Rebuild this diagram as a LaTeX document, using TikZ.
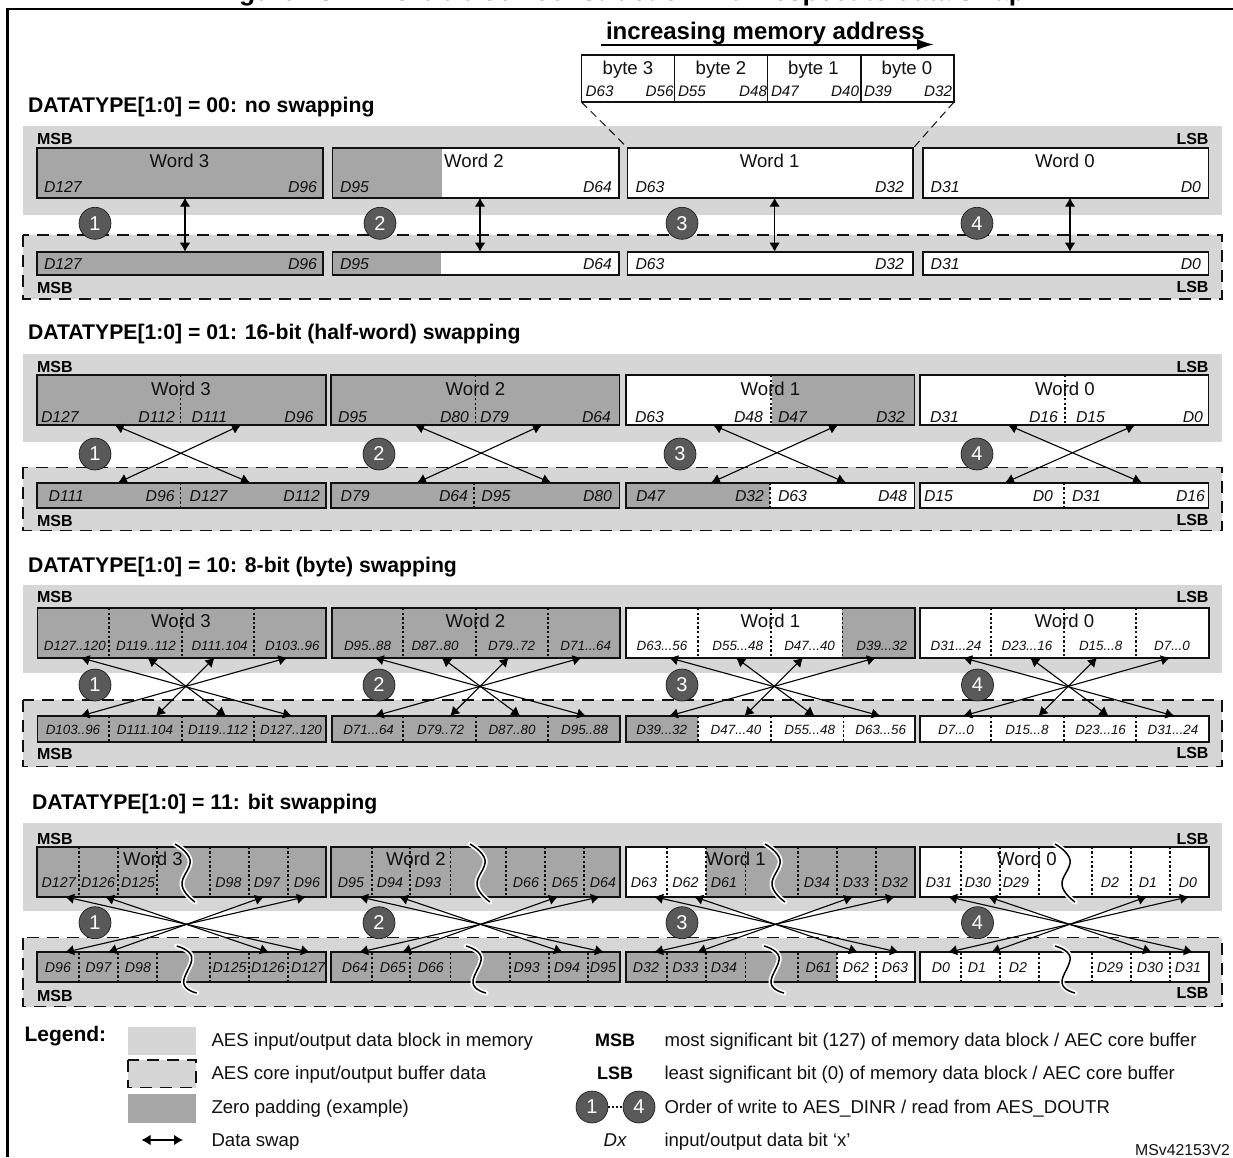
\documentclass[tikz,border=0pt]{standalone}
\usepackage{fontspec}
\setmainfont{Liberation Sans}
\usetikzlibrary{arrows.meta}
\definecolor{panel}{HTML}{D6D6D6}
\definecolor{zero}{HTML}{A6A6A6}
\definecolor{badge}{HTML}{595959}
\definecolor{ink}{HTML}{111111}
\newcounter{lab}
\tikzset{
  rg/.style={inner sep=0pt,outer sep=0pt,font=\fontsize{#1}{#1}\selectfont,text height={.716*#1pt},text depth=0pt,text=ink},
  it/.style={inner sep=0pt,outer sep=0pt,font=\fontsize{#1}{#1}\selectfont\itshape,text height={.716*#1pt},text depth=0pt,text=ink},
  bd/.style={inner sep=0pt,outer sep=0pt,font=\fontsize{#1}{#1}\selectfont\bfseries,text height={.716*#1pt},text depth=0pt,text=black},
  wordbox/.style={draw=ink,line width=1.7pt,inner sep=0pt,outer sep=0pt,anchor=north west},
  divline/.style={draw=ink,line width=1.6pt,dash pattern=on 2.4pt off 2.2pt},
  swaparrow/.style={draw=black,line width=1.1pt,{Latex[length=9pt,width=10.5pt]}-{Latex[length=9pt,width=10.5pt]}},
  buffer/.style={fill=panel,draw=ink,line width=1.5pt,dash pattern=on 12pt off 8pt},
  order/.style={circle,fill=badge,draw=ink,line width=.6pt,minimum size=32pt,inner sep=0pt,outer sep=0pt,
     font=\fontsize{20}{20}\selectfont,text=white},
}
\newcommand{\lbl}[5]{\stepcounter{lab}\node[#1,anchor=#2] (L\arabic{lab}) at (#3,#4) {#5};}
% name, xl, xr, ytop, ybot, gray from, gray to
\newcommand{\wbox}[7]{%
  \fill[white] (#2,#4) rectangle (#3,#5);
  \fill[zero] (#6,#4) rectangle (#7,#5);
  \node[wordbox,minimum width={(#3-#2)*1pt},minimum height={(#5-#4)*1pt}] (#1) at (#2,#4) {};}
\newcommand{\divs}[3]{\foreach \dx in {#3} {\draw[divline] (\dx,#1) -- (\dx,#2);}}
\newcommand{\swap}[5]{\coordinate (#1a) at (#2,#3); \coordinate (#1b) at (#4,#5); \draw[swaparrow] (#1a) -- (#1b);}
\newcommand{\orderbadge}[4]{\node[order] (#1) at (#2,#3) {#4};}
\newcommand{\squig}[5]{%
  \draw[white,line width=5pt,line cap=round] plot[smooth,tension=.75] coordinates {(#1,#2) ({#1+15},#3) ({#1+7},#4) ({#1+20},#5)};
  \draw[black,line width=1.5pt] plot[smooth,tension=.75] coordinates {(#1,#2) ({#1+15},#3) ({#1+7},#4) ({#1+20},#5)};}
\newcommand{\panelpair}[4]{% gray top, gray bottom, dashed top, dashed bottom
  \fill[panel] (23,#1) rectangle (1222,#2);
  \path[buffer] (23,#3) rectangle (1222,#4);}
\begin{document}
\begin{tikzpicture}[x=1pt,y=-1pt]
\useasboundingbox (0,0) rectangle (1233,1157);
\fill[white] (0,0) rectangle (1233,1157);

% frame and title
\draw[black,line width=2.6pt] (7.5,1157) -- (7.5,9) -- (1233,9);
\node[bd=26.5,anchor=base east,text height=19pt] (title) at (1025,0.3) {Figure 432. 128-bit block construction with respect to data swap};

%%%%%%%%%% panel 1
\panelpair{126}{215}{235}{299}
\wbox{aw3}{37}{323}{148.3}{197.7}{37}{323}
\wbox{aw2}{332.5}{619}{148.3}{197.7}{332.5}{442}
\wbox{aw1}{627.5}{913}{148.3}{197.7}{627.5}{627.5}
\wbox{aw0}{923}{1208.5}{148.3}{197.7}{923}{923}
\wbox{ab3}{37}{323}{251.7}{275.3}{37}{323}
\wbox{ab2}{332.5}{619}{251.7}{275.3}{332.5}{441}
\wbox{ab1}{627.5}{913}{251.7}{275.3}{627.5}{627.5}
\wbox{ab0}{923}{1208.5}{251.7}{275.3}{923}{923}
\lbl{bd=21.2}{west}{28}{104.5}{DATATYPE[1:0] = 00: no swapping}
\lbl{bd=16}{west}{37}{139}{MSB}
\lbl{bd=16}{east}{1208.5}{139}{LSB}
\lbl{bd=16}{west}{37}{288}{MSB}
\lbl{bd=16}{east}{1208.5}{287}{LSB}
\lbl{rg=18.6}{center}{179.5}{160.5}{Word 3}
\lbl{rg=18.6}{center}{474}{160.5}{Word 2}
\lbl{rg=18.6}{center}{769.6}{160.5}{Word 1}
\lbl{rg=18.6}{center}{1065}{160.5}{Word 0}
\foreach \yy in {186.7,263.5}{
  \lbl{it=15.8}{west}{44}{\yy}{D127}
  \lbl{it=15.8}{east}{317}{\yy}{D96}
  \lbl{it=15.8}{west}{340}{\yy}{D95}
  \lbl{it=15.8}{east}{612}{\yy}{D64}
  \lbl{it=15.8}{west}{635.5}{\yy}{D63}
  \lbl{it=15.8}{east}{904}{\yy}{D32}
  \lbl{it=15.8}{west}{930.7}{\yy}{D31}
  \lbl{it=15.8}{east}{1201}{\yy}{D0}
}
\swap{as3}{185}{197.7}{185}{251.7}
\swap{as2}{480}{197.7}{480}{251.7}
\swap{as1}{774.6}{197.7}{774.6}{251.7}
\swap{as0}{1070}{197.7}{1070}{251.7}
\orderbadge{ao1}{95}{223.3}{1}
\orderbadge{ao2}{380}{223.3}{2}
\orderbadge{ao3}{682}{223.3}{3}
\orderbadge{ao4}{977}{223.3}{4}
% memory-address detail
\lbl{bd=24}{west}{606}{30.5}{increasing memory address}
\coordinate (addrs) at (601,44.5);
\coordinate (addre) at (934,44.5);
\draw[black,line width=2pt,-{Latex[length=17pt,width=11pt]}] (addrs) -- (addre);
\node[draw=ink,line width=1.4pt,fill=white,inner sep=0pt,outer sep=0pt,anchor=north west,minimum width=372.6pt,minimum height=47pt] (bytes) at (581.4,55) {};
\draw[ink,line width=1.4pt] (674.4,55) -- (674.4,102) (767.5,55) -- (767.5,102) (861,55) -- (861,102);
\lbl{rg=18.6}{center}{628}{68}{byte 3}
\lbl{rg=18.6}{center}{721}{68}{byte 2}
\lbl{rg=18.6}{center}{813.5}{68}{byte 1}
\lbl{rg=18.6}{center}{907}{68}{byte 0}
\lbl{it=15.2}{west}{585.6}{90.7}{D63}
\lbl{it=15.2}{east}{673.6}{90.7}{D56}
\lbl{it=15.2}{west}{678}{90.7}{D55}
\lbl{it=15.2}{east}{767}{90.7}{D48}
\lbl{it=15.2}{west}{771}{90.7}{D47}
\lbl{it=15.2}{east}{859}{90.7}{D40}
\lbl{it=15.2}{west}{864}{90.7}{D39}
\lbl{it=15.2}{east}{952}{90.7}{D32}
\coordinate (zl) at (627,147.3);
\coordinate (zr) at (913.3,148);
\draw[ink,line width=1pt,dash pattern=on 8pt off 5pt] (bytes.south west) -- (zl);
\draw[ink,line width=1pt,dash pattern=on 8pt off 5pt] (bytes.south east) -- (zr);

%%%%%%%%%% panel 2
\panelpair{354}{441.7}{467.3}{530.7}
\wbox{bw3}{37}{326}{375}{425}{37}{326}
\wbox{bw2}{331}{619.5}{375}{425}{331}{619.5}
\wbox{bw1}{626}{914.5}{375}{425}{772}{914.5}
\wbox{bw0}{920}{1208.5}{375}{425}{920}{920}
\wbox{bb3}{37}{326}{482.7}{507.7}{37}{326}
\wbox{bb2}{331}{619.5}{482.7}{507.7}{331}{619.5}
\wbox{bb1}{626}{914.5}{482.7}{507.7}{626}{770}
\wbox{bb0}{920}{1208.5}{482.7}{507.7}{920}{920}
\divs{375}{425}{180.6,475.5,771,1065}
\divs{482.7}{507.7}{180.6,474,770,1064}
\lbl{bd=21.2}{west}{28}{332}{DATATYPE[1:0] = 01: 16-bit (half-word) swapping}
\lbl{bd=16}{west}{37}{366.7}{MSB}
\lbl{bd=16}{east}{1208.5}{366.7}{LSB}
\lbl{bd=16}{west}{37}{521}{MSB}
\lbl{bd=16}{east}{1208.5}{519.5}{LSB}
\lbl{rg=18.6}{center}{181}{389.3}{Word 3}
\lbl{rg=18.6}{center}{475.5}{389.3}{Word 2}
\lbl{rg=18.6}{center}{770.5}{389.3}{Word 1}
\lbl{rg=18.6}{center}{1065}{389.3}{Word 0}
\lbl{it=15.8}{west}{41}{416.7}{D127}
\lbl{it=15.8}{east}{175}{416.7}{D112}
\lbl{it=15.8}{west}{191.7}{416.7}{D111}
\lbl{it=15.8}{east}{313.4}{416.7}{D96}
\lbl{it=15.8}{west}{338}{416.7}{D95}
\lbl{it=15.8}{east}{469}{416.7}{D80}
\lbl{it=15.8}{west}{480}{416.7}{D79}
\lbl{it=15.8}{east}{611}{416.7}{D64}
\lbl{it=15.8}{west}{635}{416.7}{D63}
\lbl{it=15.8}{east}{763}{416.7}{D48}
\lbl{it=15.8}{west}{778}{416.7}{D47}
\lbl{it=15.8}{east}{905}{416.7}{D32}
\lbl{it=15.8}{west}{930}{416.7}{D31}
\lbl{it=15.8}{east}{1058}{416.7}{D16}
\lbl{it=15.8}{west}{1076}{416.7}{D15}
\lbl{it=15.8}{east}{1203}{416.7}{D0}
\lbl{it=15.8}{west}{48.6}{496}{D111}
\lbl{it=15.8}{east}{174.7}{496}{D96}
\lbl{it=15.8}{west}{189.7}{496}{D127}
\lbl{it=15.8}{east}{320}{496}{D112}
\lbl{it=15.8}{west}{340.7}{496}{D79}
\lbl{it=15.8}{east}{468}{496}{D64}
\lbl{it=15.8}{west}{481.4}{496}{D95}
\lbl{it=15.8}{east}{612}{496}{D80}
\lbl{it=15.8}{west}{636}{496}{D47}
\lbl{it=15.8}{east}{764}{496}{D32}
\lbl{it=15.8}{west}{778}{496}{D63}
\lbl{it=15.8}{east}{907}{496}{D48}
\lbl{it=15.8}{west}{924}{496}{D15}
\lbl{it=15.8}{east}{1053}{496}{D0}
\lbl{it=15.8}{west}{1072}{496}{D31}
\lbl{it=15.8}{east}{1205}{496}{D16}
\swap{bsa}{114.6}{425}{250}{482.7}
\swap{bsb}{241}{425}{118}{482.7}
\swap{bsc}{415}{425}{551}{482.7}
\swap{bsd}{542}{425}{417}{482.7}
\swap{bse}{713}{425}{846}{482.7}
\swap{bsf}{838}{425}{711}{482.7}
\swap{bsg}{1008}{425}{1142}{482.7}
\swap{bsh}{1135}{425}{1005}{482.7}
\orderbadge{bo1}{95}{454}{1}
\orderbadge{bo2}{379}{454}{2}
\orderbadge{bo3}{680}{454}{3}
\orderbadge{bo4}{977}{454}{4}

%%%%%%%%%% panel 3
\panelpair{585}{672.7}{700}{766.7}
\wbox{cw3}{37.5}{326}{608}{657.7}{37.5}{326}
\wbox{cw2}{331.7}{620}{608}{657.7}{331.7}{620}
\wbox{cw1}{626}{914.7}{608}{657.7}{842.4}{914.7}
\wbox{cw0}{920}{1208.7}{608}{657.7}{920}{920}
\wbox{cb3}{37.5}{326}{716}{742}{37.5}{326}
\wbox{cb2}{331.7}{620}{716}{742}{331.7}{620}
\wbox{cb1}{626}{914.7}{716}{742}{626}{698}
\wbox{cb0}{920}{1208.7}{716}{742}{920}{920}
\divs{608}{657.7}{108.7,182,254,403,476,548,698,771,842.4,991,1064,1136}
\divs{716}{742}{108.7,182,254,403,476,548,698,771,843.6,991,1064,1136}
\lbl{bd=21.2}{west}{28}{565}{DATATYPE[1:0] = 10: 8-bit (byte) swapping}
\lbl{bd=16}{west}{37}{597}{MSB}
\lbl{bd=16}{east}{1208.5}{597}{LSB}
\lbl{bd=16}{west}{37}{754}{MSB}
\lbl{bd=16}{east}{1208.5}{752.3}{LSB}
\lbl{rg=18.6}{center}{181}{620.7}{Word 3}
\lbl{rg=18.6}{center}{475.5}{620.7}{Word 2}
\lbl{rg=18.6}{center}{770.5}{620.7}{Word 1}
\lbl{rg=18.6}{center}{1064.5}{620.7}{Word 0}
\lbl{it=13.4}{center}{74.9}{645.7}{D127..120}
\lbl{it=13.4}{center}{146}{645.7}{D119..112}
\lbl{it=13.4}{center}{219.6}{645.7}{D111.104}
\lbl{it=13.4}{center}{292.4}{645.7}{D103..96}
\lbl{it=13.4}{center}{367.5}{645.7}{D95..88}
\lbl{it=13.4}{center}{435}{645.7}{D87..80}
\lbl{it=13.4}{center}{511.6}{645.7}{D79..72}
\lbl{it=13.4}{center}{585.8}{645.7}{D71...64}
\lbl{it=13.4}{center}{662}{645.7}{D63...56}
\lbl{it=13.4}{center}{737.7}{645.7}{D55...48}
\lbl{it=13.4}{center}{809.6}{645.7}{D47...40}
\lbl{it=13.4}{center}{881.7}{645.7}{D39...32}
\lbl{it=13.4}{center}{956}{645.7}{D31...24}
\lbl{it=13.4}{center}{1027}{645.7}{D23...16}
\lbl{it=13.4}{center}{1100.6}{645.7}{D15...8}
\lbl{it=13.4}{center}{1172}{645.7}{D7...0}
\lbl{it=13.4}{center}{73}{730}{D103..96}
\lbl{it=13.4}{center}{145}{730}{D111.104}
\lbl{it=13.4}{center}{218}{730}{D119..112}
\lbl{it=13.4}{center}{291}{730}{D127..120}
\lbl{it=13.4}{center}{368.6}{730}{D71...64}
\lbl{it=13.4}{center}{440.6}{730}{D79..72}
\lbl{it=13.4}{center}{512}{730}{D87..80}
\lbl{it=13.4}{center}{584.6}{730}{D95..88}
\lbl{it=13.4}{center}{661.8}{730}{D39...32}
\lbl{it=13.4}{center}{736}{730}{D47...40}
\lbl{it=13.4}{center}{809.7}{730}{D55...48}
\lbl{it=13.4}{center}{880.7}{730}{D63...56}
\lbl{it=13.4}{center}{956}{730}{D7...0}
\lbl{it=13.4}{center}{1027}{730}{D15...8}
\lbl{it=13.4}{center}{1100.6}{730}{D23...16}
\lbl{it=13.4}{center}{1173}{730}{D31...24}
\foreach \s/\n in {37.5/a,331.7/b,626/c,920/d}{
  \swap{cs\n1}{\s+43}{657.7}{\s+254.5}{716}
  \swap{cs\n2}{\s+110}{657.7}{\s+188.5}{716}
  \swap{cs\n3}{\s+177}{657.7}{\s+118.5}{716}
  \swap{cs\n4}{\s+250}{657.7}{\s+43}{716}
}
\orderbadge{co1}{95}{685}{1}
\orderbadge{co2}{379}{685}{2}
\orderbadge{co3}{682}{685}{3}
\orderbadge{co4}{977.5}{685}{4}

%%%%%%%%%% panel 4
\panelpair{823}{911}{937.7}{1006.7}
\wbox{dw3}{37}{326}{846.7}{896.7}{37}{326}
\wbox{dw2}{331}{620}{846.7}{896.7}{331}{620}
\wbox{dw1}{626}{914.7}{846.7}{896.7}{706}{914.7}
\wbox{dw0}{920}{1208.7}{846.7}{896.7}{920}{920}
\wbox{db3}{37}{326}{952.3}{982.3}{37}{326}
\wbox{db2}{331}{620}{952.3}{982.3}{331}{620}
\wbox{db1}{626}{914.7}{952.3}{982.3}{626}{837}
\wbox{db0}{920}{1208.7}{952.3}{982.3}{920}{920}
\divs{846.7}{896.7}{79,118,157,210,249,288,372,410,450.6,506,545,584,667,706,745.5,798,837,876,961,1000,1039,1092,1131,1170}
\divs{952.3}{982.3}{79,118,157,210,249,288,372,410,450.6,510,549,588,667,706,745.5,798,837,876,961,1000,1039,1092,1131,1170}
\squig{175}{844}{860}{885}{902}
\squig{470}{844}{860}{885}{902}
\squig{765}{844}{860}{885}{902}
\squig{1055}{844}{860}{885}{902}
\squig{176.7}{946}{957}{983}{993}
\squig{466}{946}{957}{983}{993}
\squig{764}{946}{957}{983}{993}
\squig{1055}{946}{957}{983}{993}
\lbl{bd=21.2}{west}{32}{802}{DATATYPE[1:0] = 11: bit swapping}
\lbl{bd=16}{west}{37}{838.3}{MSB}
\lbl{bd=16}{east}{1208.5}{838.3}{LSB}
\lbl{bd=16}{west}{37}{995.7}{MSB}
\lbl{bd=16}{east}{1208.5}{993}{LSB}
\lbl{rg=18.6}{center}{153}{859.3}{Word 3}
\lbl{rg=18.6}{center}{416}{859.3}{Word 2}
\lbl{rg=18.6}{center}{736}{859.3}{Word 1}
\lbl{rg=18.6}{center}{1027}{859.3}{Word 0}
\foreach \xx/\tt in {58.7/D127,98/D126,138/D125,228.5/D98,267/D97,307/D96,351/D95,390/D94,428/D93,526/D66,565/D65,603/D64,644/D63,685.5/D62,724/D61,817/D34,856/D33,895/D32,939/D31,978/D30,1016/D29,1110/D2,1148/D1,1188/D0}{
  \lbl{it=14.2}{center}{\xx}{882.7}{\tt}
}
\foreach \xx/\tt in {58/D96,98.5/D97,138/D98,229.6/D125,268/D126,308/D127,355/D64,393/D65,430.8/D66,526.7/D93,567/D94,603/D95,646/D32,685.5/D33,724/D34,818.6/D61,856/D62,895/D63,941/D0,977/D1,1018/D2,1110/D29,1150/D30,1188/D31}{
  \lbl{it=14.2}{center}{\xx}{967.3}{\tt}
}
\foreach \s/\n in {37/a,331/b,626/c,920/d}{
  \swap{ds\n1}{\s+28}{896.7}{\s+273}{952.3}
  \swap{ds\n2}{\s+68}{896.7}{\s+232}{952.3}
  \swap{ds\n3}{\s+227}{896.7}{\s+71}{952.3}
  \swap{ds\n4}{\s+269}{896.7}{\s+28}{952.3}
}
\orderbadge{do1}{95}{922.7}{1}
\orderbadge{do2}{379}{922.7}{2}
\orderbadge{do3}{682}{922.7}{3}
\orderbadge{do4}{977.5}{922.7}{4}

%%%%%%%%%% legend
\lbl{bd=21}{west}{24.5}{1034}{Legend:}
\fill[panel] (128,1026.7) rectangle (196,1054.7);
\path[buffer] (128,1060) rectangle (196,1087.7);
\fill[zero] (128,1094) rectangle (196,1122.7);
\coordinate (lega) at (141.5,1140);
\coordinate (legb) at (183,1140);
\draw[swaparrow] (lega) -- (legb);
\lbl{rg=18.6}{west}{211.5}{1040}{AES input/output data block in memory}
\lbl{rg=18.6}{west}{211.5}{1073}{AES core input/output buffer data}
\lbl{rg=18.6}{west}{211.5}{1107}{Zero padding (example)}
\lbl{rg=18.6}{west}{211.5}{1140}{Data swap}
\lbl{bd=18}{center}{615}{1040}{MSB}
\lbl{bd=18}{center}{615}{1073}{LSB}
\orderbadge{lo1}{592}{1107}{1}
\orderbadge{lo4}{639}{1107}{4}
\draw[ink,line width=1.6pt,dash pattern=on 2pt off 2pt] (lo1) -- (lo4);
\lbl{it=18.6}{center}{615}{1140}{Dx}
\lbl{rg=18.6}{west}{664.5}{1040}{most significant bit (127) of memory data block / AEC core buffer}
\lbl{rg=18.6}{west}{664.5}{1073}{least significant bit (0) of memory data block / AEC core buffer}
\lbl{rg=18.6}{west}{664.5}{1107}{Order of write to AES\_DINR / read from AES\_DOUTR}
\lbl{rg=18.6}{west}{664.5}{1140}{input/output data bit ‘x’}
\lbl{rg=15.8}{east}{1230}{1149.5}{MSv42153V2}
\end{tikzpicture}
\end{document}
